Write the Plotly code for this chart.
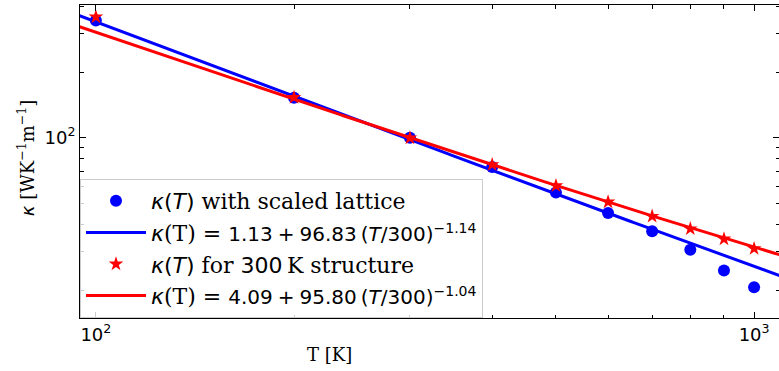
import numpy as np
import plotly.graph_objects as go

# Temperatures (K) and thermal conductivity values (W K^-1 m^-1)
temps = [100, 200, 300, 400, 500, 600, 700, 800, 900, 1000]
kappa_scaled = [345, 152.5, 100, 73.4, 56.0, 45.1, 37.2, 30.6, 24.6, 20.6]
kappa_300k = [358, 153, 99.7, 75.2, 60.2, 50.7, 43.6, 38.2, 34.3, 31.0]

# Fit parameters: kappa(T) = a + b (T/300)^c
fit_scaled = (1.13, 96.83, -1.14)
fit_300k = (4.09, 95.80, -1.04)

x_tickvals = [100, 1000]
x_ticktext = ["10<sup>2</sup>", "10<sup>3</sup>"]
y_tickvals = [100]
y_ticktext = ["10<sup>2</sup>"]
x_minor = [200, 300, 400, 500, 600, 700, 800, 900]
y_minor = [20, 30, 40, 50, 60, 70, 80, 90, 200, 300, 400]


def fit_curve(params, t):
    a, b, c = params
    return a + b * (t / 300.0) ** c


t_fit = np.geomspace(90, 1150, 300)

BLUE = "#0000ff"
RED = "#ff0000"
SANS = "DejaVu Sans"
SERIF = "DejaVu Serif"
MED = "\u2005"   # medium math space
THIN = "\u2009"  # thin space


def math(s, size=None):
    style = f"font-family:{SANS}"
    if size:
        style += f";font-size:{size}px"
    return f"<span style='{style}'>{s}</span>"


def fit_label(params):
    a, b, c = params
    body = f"{a:.2f}{MED}+{MED}{b:.2f}{THIN}(<i>T</i>/300)<sup>−{abs(c):.2f}</sup>"
    return math("<i>κ</i>") + "(T) = " + math(body, 20)


fig = go.Figure()
fig.add_trace(go.Scatter(
    x=temps, y=kappa_scaled, mode="markers",
    marker=dict(color=BLUE, size=12, symbol="circle"),
    name=math("<i>κ</i>(<i>T</i>)") + " with scaled lattice",
))
fig.add_trace(go.Scatter(
    x=t_fit, y=fit_curve(fit_scaled, t_fit), mode="lines",
    line=dict(color=BLUE, width=3),
    name=fit_label(fit_scaled),
))
fig.add_trace(go.Scatter(
    x=temps, y=kappa_300k, mode="markers",
    marker=dict(color=RED, size=11, symbol="star"),
    name=math("<i>κ</i>(<i>T</i>)") + " for " + math("300") + THIN + "K structure",
))
fig.add_trace(go.Scatter(
    x=t_fit, y=fit_curve(fit_300k, t_fit), mode="lines",
    line=dict(color=RED, width=3),
    name=fit_label(fit_300k),
))

axis_common = dict(
    type="log",
    showgrid=False,
    zeroline=False,
    showline=True,
    linecolor="black",
    linewidth=1,
    mirror="ticks",
    ticks="inside",
    ticklen=6,
    tickwidth=1,
    tickcolor="black",
    tickfont=dict(family=SANS, size=18, color="black"),
)

fig.update_xaxes(
    **axis_common,
    range=[np.log10(94.6), np.log10(1091)],
    tickvals=x_tickvals, ticktext=x_ticktext,
    minor=dict(tickvals=x_minor, ticks="inside", ticklen=3.5, tickwidth=1, tickcolor="black"),
)
fig.update_yaxes(
    **axis_common,
    range=[1.1729, 2.6087],
    tickvals=y_tickvals, ticktext=y_ticktext,
    minor=dict(tickvals=y_minor, ticks="inside", ticklen=3.5, tickwidth=1, tickcolor="black"),
)

fig.update_layout(
    width=779, height=371,
    margin=dict(l=80, r=0, t=5, b=53),
    paper_bgcolor="white",
    plot_bgcolor="white",
    font=dict(family=SERIF, size=17, color="black"),
    showlegend=True,
    legend=dict(
        x=0, y=0, xanchor="left", yanchor="bottom",
        bgcolor="rgba(255,255,255,0.8)",
        bordercolor="#cccccc", borderwidth=1,
        font=dict(family=SERIF, size=22, color="black"),
        itemwidth=60,
        tracegroupgap=0,
    ),
    annotations=[
        dict(text="T [K]", xref="paper", yref="paper", x=(329 - 80) / 699, y=-(354 - 318) / 313,
             xanchor="center", yanchor="middle", showarrow=False,
             font=dict(family=SERIF, size=18)),
        dict(text=math("<i>κ</i>") + " [WK<sup>−1</sup>m<sup>−1</sup>]", xref="paper", yref="paper",
             x=-0.077, y=(318 - 158) / 313, xanchor="center", yanchor="middle",
             textangle=-90, showarrow=False,
             font=dict(family=SERIF, size=18)),
    ],
)

fig.write_html("out.html")
